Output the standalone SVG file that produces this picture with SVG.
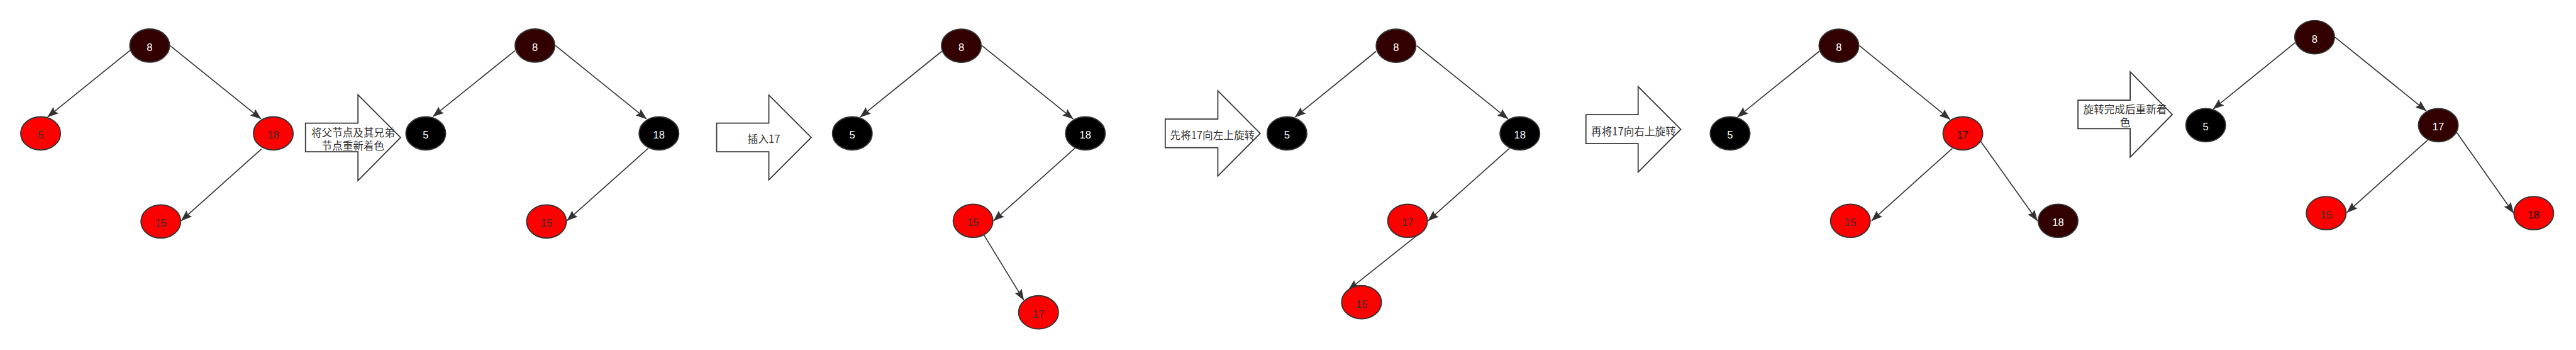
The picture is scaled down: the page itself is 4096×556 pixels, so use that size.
<svg xmlns="http://www.w3.org/2000/svg" width="4096" height="556" viewBox="0 0 4096 556">
<style>
.n{stroke:#333;stroke-width:2.8}
.red{fill:#ff0000}
.blk{fill:#000}
.drk{fill:#330000}
.t{font-family:"Liberation Sans","Noto Sans CJK SC",sans-serif;font-size:25.5px;text-anchor:middle}
.tw{fill:#fff}
.td{fill:#333}
.tb{fill:#000}
.e{stroke:#333;stroke-width:2.5;fill:none;marker-end:url(#ah)}
.ba{fill:#fff;stroke:#333;stroke-width:2.7;stroke-linejoin:miter}
.lbl{font-family:"Noto Sans CJK SC","Liberation Sans",sans-serif;font-size:25.5px;text-anchor:middle;fill:#333}
</style>
<defs>
<marker id="ah" viewBox="0 0 27 20" refX="26" refY="10" markerWidth="27" markerHeight="20" markerUnits="userSpaceOnUse" orient="auto">
<path d="M0,0 L27,10 L0,20 L4,10 Z" fill="#333"/>
</marker>
</defs>
<rect width="4096" height="556" fill="#fff"/>
<g transform="scale(0.652)">
<g id="connectors">
<line class="e" x1="317" y1="123" x2="116" y2="285"/>
<line class="e" x1="414.5" y1="111" x2="636.5" y2="289.7"/>
<line class="e" x1="637.8" y1="362.8" x2="442" y2="537.7"/>
<line class="e" x1="1256.1" y1="123.2" x2="1056" y2="284"/>
<line class="e" x1="1354.6" y1="111" x2="1576.5" y2="289.7"/>
<line class="e" x1="1580.6" y1="361.6" x2="1382.7" y2="537.7"/>
<line class="e" x1="2296.8" y1="125" x2="2097.6" y2="285.3"/>
<line class="e" x1="2395" y1="111.4" x2="2617.1" y2="289.7"/>
<line class="e" x1="2621.1" y1="361.4" x2="2423.1" y2="538"/>
<line class="e" x1="2400.1" y1="573.4" x2="2496.6" y2="731"/>
<line class="e" x1="3356.1" y1="125" x2="3158.2" y2="285.3"/>
<line class="e" x1="3455.1" y1="111.4" x2="3677.6" y2="289.7"/>
<line class="e" x1="3681.1" y1="361.4" x2="3482.7" y2="538"/>
<line class="e" x1="3459.2" y1="570.7" x2="3288.3" y2="706.5"/>
<line class="e" x1="4436.7" y1="125" x2="4237.1" y2="285.3"/>
<line class="e" x1="4534.9" y1="111.4" x2="4755.6" y2="290.8"/>
<line class="e" x1="4761.4" y1="361.4" x2="4564.3" y2="538"/>
<line class="e" x1="4829" y1="342.4" x2="4968.6" y2="538"/>
<line class="e" x1="5597.5" y1="103.6" x2="5397.5" y2="265.6"/>
<line class="e" x1="5694.6" y1="90.6" x2="5916.9" y2="270.1"/>
<line class="e" x1="5920.2" y1="341.5" x2="5723.4" y2="517.9"/>
<line class="e" x1="5989.7" y1="320.5" x2="6130" y2="519.2"/>
</g>
<!-- Tree 1 -->
<g id="t1-8"><ellipse class="n drk" cx="365" cy="111" rx="48.5" ry="40.5"/><text class="t tw" x="365" y="124">8</text></g>
<g id="t1-5"><ellipse class="n red" cx="99" cy="325" rx="48.5" ry="40.5"/><text class="t td" x="99" y="338">5</text></g>
<g id="t1-18"><ellipse class="n red" cx="666.5" cy="325" rx="48.5" ry="40.5"/><text class="t td" x="666.5" y="338">18</text></g>
<g id="t1-15"><ellipse class="n red" cx="392.2" cy="539.6" rx="48.5" ry="40.5"/><text class="t td" x="392.2" y="552.6">15</text></g>
<g id="arrow1"><polygon class="ba" points="745,300 873,300 873,231 977,335 873,440 873,370 745,370"/><text class="lbl" x="861" y="333">将父节点及其兄弟</text><text class="lbl" x="861" y="365">节点重新着色</text></g>
<!-- Tree 2 -->
<g id="t2-8"><ellipse class="n drk" cx="1304.6" cy="111" rx="48.5" ry="40.5"/><text class="t tw" x="1304.6" y="124">8</text></g>
<g id="t2-5"><ellipse class="n blk" cx="1038.3" cy="325" rx="48.5" ry="40.5"/><text class="t tw" x="1038.3" y="338">5</text></g>
<g id="t2-18"><ellipse class="n blk" cx="1607" cy="325" rx="48.5" ry="40.5"/><text class="t tw" x="1607" y="338">18</text></g>
<g id="t2-15"><ellipse class="n red" cx="1332.7" cy="539.6" rx="48.5" ry="40.5"/><text class="t td" x="1332.7" y="552.6">15</text></g>
<g id="arrow2"><polygon class="ba" points="1747.7,300 1875,300 1875,231.7 1978.3,335 1875,438.3 1875,370 1747.7,370"/><text class="lbl" x="1863" y="348">插入17</text></g>
<!-- Tree 3 -->
<g id="t3-8"><ellipse class="n drk" cx="2344.4" cy="111.4" rx="48.5" ry="40.5"/><text class="t tw" x="2344.4" y="124.4">8</text></g>
<g id="t3-5"><ellipse class="n blk" cx="2078.6" cy="325" rx="48.5" ry="40.5"/><text class="t tw" x="2078.6" y="338">5</text></g>
<g id="t3-18"><ellipse class="n blk" cx="2647" cy="325" rx="48.5" ry="40.5"/><text class="t tw" x="2647" y="338">18</text></g>
<g id="t3-15"><ellipse class="n red" cx="2373" cy="538" rx="48.5" ry="40.5"/><text class="t td" x="2373" y="551">15</text></g>
<g id="t3-17"><ellipse class="n red" cx="2532.7" cy="761" rx="48.5" ry="40.5"/><text class="t td" x="2532.7" y="774">17</text></g>
<g id="arrow3"><polygon class="ba" points="2841.7,290 2970,290 2970,221 3073.3,325 2970,429 2970,360 2841.7,360"/><text class="lbl" x="2956.7" y="339">先将17向左上旋转</text></g>
<!-- Tree 4 -->
<g id="t4-8"><ellipse class="n drk" cx="3404.6" cy="111.4" rx="48.5" ry="40.5"/><text class="t tw" x="3404.6" y="124.4">8</text></g>
<g id="t4-5"><ellipse class="n blk" cx="3138.6" cy="325" rx="48.5" ry="40.5"/><text class="t tw" x="3138.6" y="338">5</text></g>
<g id="t4-18"><ellipse class="n blk" cx="3706.6" cy="325" rx="48.5" ry="40.5"/><text class="t tw" x="3706.6" y="338">18</text></g>
<g id="t4-17"><ellipse class="n red" cx="3432.7" cy="538" rx="48.5" ry="40.5"/><text class="t td" x="3432.7" y="551">17</text></g>
<g id="t4-15"><ellipse class="n red" cx="3320.4" cy="736.4" rx="48.5" ry="40.5"/><text class="t td" x="3320.4" y="749.4">15</text></g>
<g id="arrow4"><polygon class="ba" points="3867.7,279.3 3995,279.3 3995,211 4099,315 3995,419.3 3995,350 3867.7,350"/><text class="lbl" x="3983.8" y="330">再将17向右上旋转</text></g>
<!-- Tree 5 -->
<g id="t5-8"><ellipse class="n drk" cx="4484.6" cy="111.4" rx="48.5" ry="40.5"/><text class="t tw" x="4484.6" y="124.4">8</text></g>
<g id="t5-5"><ellipse class="n blk" cx="4219.3" cy="325" rx="48.5" ry="40.5"/><text class="t tw" x="4219.3" y="338">5</text></g>
<g id="t5-17"><ellipse class="n red" cx="4786.9" cy="325" rx="48.5" ry="40.5"/><text class="t tb" x="4786.9" y="338">17</text></g>
<g id="t5-15"><ellipse class="n red" cx="4512.6" cy="538" rx="48.5" ry="40.5"/><text class="t td" x="4512.6" y="551">15</text></g>
<g id="t5-18"><ellipse class="n drk" cx="5019" cy="538" rx="48.5" ry="40.5"/><text class="t tw" x="5019" y="551">18</text></g>
<g id="arrow5"><polygon class="ba" points="5067.7,244 5195,244 5195,175 5297.7,279 5195,382.7 5195,313.3 5067.7,313.3"/><text class="lbl" x="5182.5" y="276.5">旋转完成后重新着</text><text class="lbl" x="5182.5" y="308.5">色</text></g>
<!-- Tree 6 -->
<g id="t6-8"><ellipse class="n drk" cx="5644.8" cy="90.6" rx="48.5" ry="40.5"/><text class="t tw" x="5644.8" y="103.6">8</text></g>
<g id="t6-5"><ellipse class="n blk" cx="5379.2" cy="305" rx="48.5" ry="40.5"/><text class="t tw" x="5379.2" y="318">5</text></g>
<g id="t6-17"><ellipse class="n drk" cx="5946.4" cy="305" rx="48.5" ry="40.5"/><text class="t tw" x="5946.4" y="318">17</text></g>
<g id="t6-15"><ellipse class="n red" cx="5673" cy="519.2" rx="48.5" ry="40.5"/><text class="t td" x="5673" y="532.2">15</text></g>
<g id="t6-18"><ellipse class="n red" cx="6179.2" cy="519.2" rx="48.5" ry="40.5"/><text class="t tb" x="6179.2" y="532.2">18</text></g>
</g>
</svg>
